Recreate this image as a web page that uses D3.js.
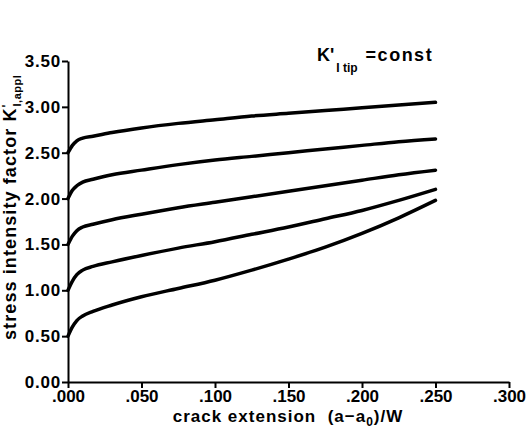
<!DOCTYPE html>
<html>
<head>
<meta charset="utf-8">
<script src="https://cdn.jsdelivr.net/npm/d3@7"></script>
<style>
  body { margin: 0; background: #fff; }
  svg text { font-family: "Liberation Sans", Arial, sans-serif; font-weight: bold; fill: #000; }
  .axis path, .axis line { stroke: #000; stroke-width: 2; }
</style>
</head>
<body>
<div id="chart"></div>
<script>
// crack extension (a-a0)/W
var xs = [0, 0.003, 0.006, 0.01, 0.017, 0.03, 0.05, 0.075, 0.1, 0.125, 0.15, 0.175, 0.2, 0.225, 0.25];

// K'I,appl for each curve (K'I tip = const)
var k25 = [2.50, 2.58, 2.63, 2.66, 2.68, 2.72, 2.77, 2.82, 2.86, 2.90, 2.93, 2.96, 2.99, 3.02, 3.05];
var k20 = [2.00, 2.09, 2.14, 2.18, 2.21, 2.26, 2.31, 2.37, 2.42, 2.46, 2.50, 2.54, 2.58, 2.62, 2.65];
var k15 = [1.50, 1.59, 1.65, 1.69, 1.72, 1.77, 1.83, 1.90, 1.96, 2.02, 2.08, 2.14, 2.20, 2.26, 2.31];
var k10 = [1.00, 1.10, 1.17, 1.22, 1.26, 1.31, 1.38, 1.46, 1.53, 1.61, 1.69, 1.78, 1.87, 1.98, 2.10];
var k05 = [0.50, 0.60, 0.67, 0.72, 0.77, 0.84, 0.93, 1.02, 1.11, 1.22, 1.34, 1.47, 1.62, 1.79, 1.98];

var xTicks = [0, 0.05, 0.1, 0.15, 0.2, 0.25, 0.3];
var yTicks = [0, 0.5, 1.0, 1.5, 2.0, 2.5, 3.0, 3.5];

var width = 526, height = 438;

var svg = d3.select("#chart").append("svg")
  .attr("width", width)
  .attr("height", height);

var x = d3.scaleLinear().domain([0, 0.3]).range([68, 509]);
var y = d3.scaleLinear().domain([0, 3.5]).range([382, 61]);

// x-Achse
svg.append("g")
  .attr("class", "axis")
  .attr("transform", "translate(0,382)")
  .call(d3.axisBottom(x)
    .tickValues(xTicks)
    .tickSize(6)
    .tickSizeOuter(0)
    .tickPadding(2)
    .tickFormat(function (d) { return d3.format(".3f")(d).replace(/^0/, ""); }))
  .selectAll("text")
  .style("font-size", "17px");

// y-Achse
svg.append("g")
  .attr("class", "axis")
  .attr("transform", "translate(68,0)")
  .call(d3.axisLeft(y)
    .tickValues(yTicks)
    .tickSize(6)
    .tickSizeOuter(0)
    .tickPadding(1)
    .tickFormat(d3.format(".2f")))
  .selectAll("text")
  .style("font-size", "17px")
  .style("letter-spacing", "0.8px");

var line = d3.line()
  .x(function (d) { return x(d[0]); })
  .y(function (d) { return y(d[1]); })
  .curve(d3.curveMonotoneX);

[k05, k10, k15, k20, k25].forEach(function (ks) {
  svg.append("path")
    .datum(xs.map(function (v, i) { return [v, ks[i]]; }))
    .attr("fill", "none")
    .attr("stroke", "#000")
    .attr("stroke-width", 3.5)
    .attr("stroke-linejoin", "round")
    .attr("stroke-linecap", "round")
    .attr("d", line);
});

// x title
var xt = svg.append("text")
  .attr("x", 288)
  .attr("y", 422)
  .attr("text-anchor", "middle")
  .style("font-size", "17px")
  .style("letter-spacing", "1px")
  .style("white-space", "pre");
xt.append("tspan").text("crack extension  (a\u2212a");
xt.append("tspan").attr("dy", 4).style("font-size", "12px").text("0");
xt.append("tspan").attr("dy", -4).text(")/W");

// y title
var yt = svg.append("text")
  .attr("transform", "translate(16,340) rotate(-90)")
  .style("font-size", "18px")
  .style("letter-spacing", "1.1px");
yt.append("tspan").text("stress intensity factor K");
yt.append("tspan").attr("dy", -5).style("font-size", "12px").text("'");
yt.append("tspan").attr("dy", 10).attr("dx", -3).style("font-size", "11px").style("letter-spacing", "0.5px").text("I,appl");

// annotation
var an = svg.append("text")
  .attr("x", 317)
  .attr("y", 61)
  .style("font-size", "18px")
  .style("white-space", "pre");
an.append("tspan").text("K'");
an.append("tspan").attr("dy", 11).attr("dx", 2).style("font-size", "12px").text("I tip");
an.append("tspan").attr("dy", -11).attr("dx", 8).style("letter-spacing", "1.5px").text("=const");
</script>
</body>
</html>
